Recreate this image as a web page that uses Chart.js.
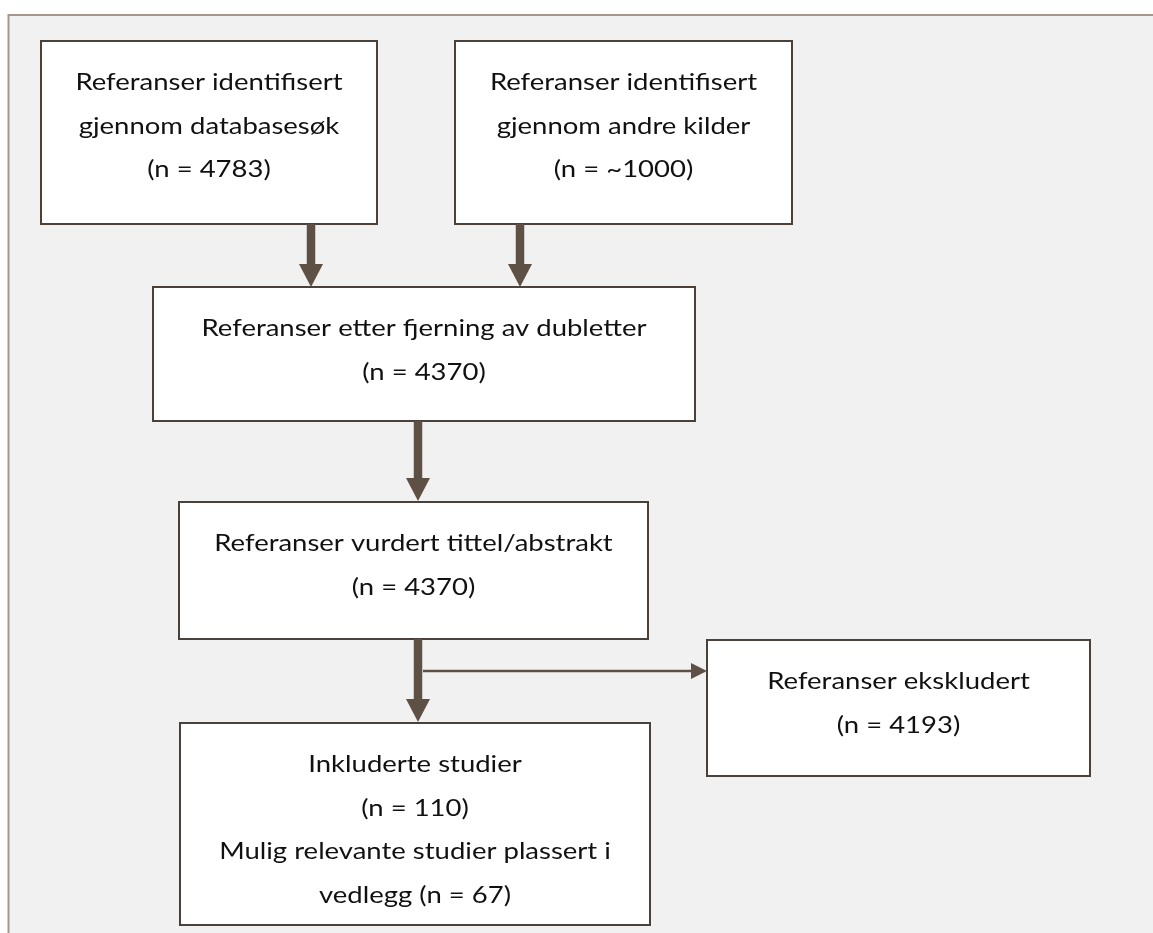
<!DOCTYPE html>
<html>
<head>
<meta charset="utf-8">
<script src="https://cdn.jsdelivr.net/npm/chart.js@4/dist/chart.umd.min.js"></script>
<style>
  html, body { margin: 0; padding: 0; background: #ffffff; }
  #wrap { width: 1153px; height: 933px; }
</style>
</head>
<body>
<div id="wrap"><canvas id="c" width="1153" height="933"></canvas></div>
<script>
// ---- content (text and counts) ----
const stepTitles = [
  ["Referanser identifisert", "gjennom databasesøk"],
  ["Referanser identifisert", "gjennom andre kilder"],
  ["Referanser etter fjerning av dubletter"],
  ["Referanser vurdert tittel/abstrakt"],
  ["Inkluderte studier"],
  ["Referanser ekskludert"]
];
const stepCounts = ["4783", "~1000", "4370", "4370", "110", "4193"];
const extraNotes = ["", "", "", "", "Mulig relevante studier plassert i|vedlegg (n = 67)", ""];

// ---- layout (positions in diagram units, separate from the content) ----
const boxLeft   = [41, 455, 153, 179, 180, 707];
const boxTop    = [41, 41, 287, 502, 723, 640];
const boxRight  = [377, 792, 695, 648, 650, 1090];
const boxBottom = [224, 224, 421, 639, 925, 776];
const arrowX1 = [311, 520, 418, 418, 423];
const arrowY1 = [224, 224, 421, 639, 671];
const arrowX2 = [311, 520, 418, 418, 707];
const arrowY2 = [287, 287, 501, 722, 671];
const arrowHeavy = [true, true, true, true, false];

const centers = boxLeft.map((l, i) => ({ x: (l + boxRight[i]) / 2, y: (boxTop[i] + boxBottom[i]) / 2 }));

const flowPlugin = {
  id: 'flow',
  beforeDraw(chart) {
    const ctx = chart.ctx;
    const xs = chart.scales.x, ys = chart.scales.y;
    const X = v => xs.getPixelForValue(v);
    const Y = v => ys.getPixelForValue(v);
    ctx.save();
    ctx.fillStyle = '#ffffff';
    ctx.fillRect(0, 0, chart.width, chart.height);
    ctx.fillStyle = '#f1f1f1';
    ctx.fillRect(X(8.5), Y(15), X(1153) - X(8.5), Y(933) - Y(15));
    ctx.strokeStyle = '#a8968c';
    ctx.lineWidth = 2;
    ctx.beginPath();
    ctx.moveTo(X(8.5), Y(933));
    ctx.lineTo(X(8.5), Y(15));
    ctx.lineTo(X(1153), Y(15));
    ctx.stroke();
    ctx.restore();
  },
  afterDatasetsDraw(chart) {
    const ctx = chart.ctx;
    const xs = chart.scales.x, ys = chart.scales.y;
    const X = v => xs.getPixelForValue(v);
    const Y = v => ys.getPixelForValue(v);
    ctx.save();
    for (let i = 0; i < boxLeft.length; i++) {
      const x = X(boxLeft[i]), y = Y(boxTop[i]);
      const w = X(boxRight[i]) - x, h = Y(boxBottom[i]) - y;
      ctx.fillStyle = '#ffffff';
      ctx.fillRect(x, y, w, h);
      ctx.strokeStyle = '#4b413b';
      ctx.lineWidth = 2;
      ctx.strokeRect(x, y, w, h);
    }
    ctx.fillStyle = '#5f5046';
    ctx.strokeStyle = '#5f5046';
    for (let i = 0; i < arrowX1.length; i++) {
      const x1 = X(arrowX1[i]), y1 = Y(arrowY1[i]), x2 = X(arrowX2[i]), y2 = Y(arrowY2[i]);
      const heavy = arrowHeavy[i];
      const headL = heavy ? 23 : 16, headW = heavy ? 24 : 16;
      const ang = Math.atan2(y2 - y1, x2 - x1);
      const bx = x2 - Math.cos(ang) * headL, by = y2 - Math.sin(ang) * headL;
      ctx.lineWidth = heavy ? 8.5 : 2.5;
      ctx.lineCap = 'butt';
      ctx.beginPath();
      ctx.moveTo(x1, y1);
      ctx.lineTo(bx, by);
      ctx.stroke();
      const px = -Math.sin(ang) * headW / 2, py = Math.cos(ang) * headW / 2;
      ctx.beginPath();
      ctx.moveTo(x2, y2);
      ctx.lineTo(bx + px, by + py);
      ctx.lineTo(bx - px, by - py);
      ctx.closePath();
      ctx.fill();
    }
    // text: Lato, condensed horizontally to mimic Calibri proportions
    const fs = 24;
    ctx.font = fs + 'px Lato';
    const ref = ctx.measureText('Referanser etter fjerning av dubletter').width;
    const sx = 445 / ref;
    ctx.fillStyle = '#111111';
    ctx.textAlign = 'center';
    ctx.textBaseline = 'alphabetic';
    for (let i = 0; i < stepTitles.length; i++) {
      const lines = stepTitles[i].slice();
      lines.push('(n = ' + stepCounts[i] + ')');
      if (extraNotes[i]) extraNotes[i].split('|').forEach(s => lines.push(s));
      const cx = X(centers[i].x);
      lines.forEach((s, k) => {
        ctx.save();
        ctx.translate(cx, Y(boxTop[i] + 49 + k * 43.5));
        ctx.scale(sx, 1);
        ctx.fillText(s, 0, 0);
        ctx.restore();
      });
    }
    ctx.restore();
  }
};

new Chart(document.getElementById('c'), {
  type: 'scatter',
  data: {
    datasets: [{
      data: centers,
      pointRadius: 0,
      showLine: false
    }]
  },
  options: {
    responsive: false,
    animation: false,
    layout: { padding: 0 },
    plugins: { legend: { display: false }, tooltip: { enabled: false } },
    scales: {
      x: { type: 'linear', min: 0, max: 1153, display: false },
      y: { type: 'linear', min: 0, max: 933, reverse: true, display: false }
    }
  },
  plugins: [flowPlugin]
});
</script>
</body>
</html>
